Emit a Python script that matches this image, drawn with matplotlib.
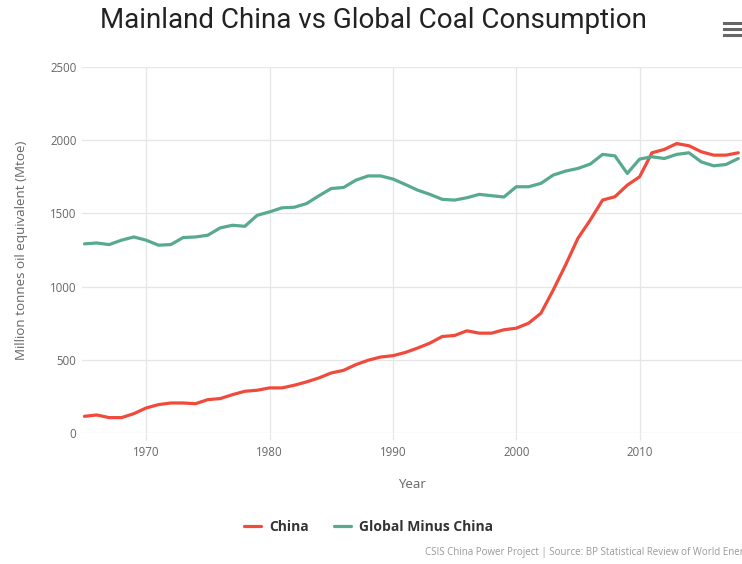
import numpy as np
import matplotlib
matplotlib.use("Agg")
import matplotlib.pyplot as plt
from matplotlib.lines import Line2D

# yearly coal consumption, Mtoe
years = np.arange(1965, 2019)
china = [114, 123, 105, 105, 132, 171, 194, 205, 205, 200,
         228, 235, 262, 285, 292, 308, 308, 326, 349, 376,
         410, 428, 467, 497, 519, 528, 550, 580, 614, 659,
         666, 698, 682, 682, 705, 716, 750, 818, 977, 1148,
         1330, 1455, 1591, 1614, 1693, 1750, 1914, 1937, 1977, 1962,
         1921, 1898, 1898, 1914]
global_minus_china = [1292, 1298, 1287, 1317, 1339, 1317, 1283, 1287, 1335, 1339,
                      1351, 1401, 1419, 1412, 1487, 1510, 1538, 1542, 1567, 1620,
                      1670, 1677, 1727, 1756, 1756, 1735, 1698, 1659, 1630, 1596,
                      1591, 1607, 1630, 1621, 1612, 1682, 1682, 1705, 1762, 1789,
                      1807, 1837, 1903, 1893, 1773, 1871, 1887, 1875, 1903, 1914,
                      1852, 1825, 1834, 1875]

xticks = [1970, 1980, 1990, 2000, 2010]
yticks = [0, 500, 1000, 1500, 2000, 2500]

red = "#f04a3c"
green = "#57a98f"
grid_col = "#e6e6e6"
tick_col = "#666666"

fig = plt.figure(figsize=(7.42, 5.64), dpi=100)
ax = fig.add_axes([82 / 742, 1 - 433 / 564, 1 - 82 / 742, (433 - 67) / 564])

ax.plot(years, china, color=red, lw=2.3, label="China", solid_capstyle="round")
ax.plot(years, global_minus_china, color=green, lw=2.3, label="Global Minus China",
        solid_capstyle="round")

ax.set_xlim(1964.8, 2018.3)
ax.set_ylim(0, 2500)
ax.set_xticks(xticks)
ax.set_yticks(yticks)
ax.grid(True, color=grid_col, lw=0.9)
ax.set_axisbelow(True)
for s in ax.spines.values():
    s.set_visible(False)
ax.tick_params(axis="y", length=0, labelsize=8.3, labelcolor=tick_col, pad=4)
ax.tick_params(axis="x", length=5, color=grid_col, width=0.9,
               labelsize=8.3, labelcolor=tick_col, pad=4)
for lab in ax.get_xticklabels() + ax.get_yticklabels():
    lab.set_family("Open Sans")

ax.set_xlabel("Year", fontsize=9.6, color=tick_col, family="Open Sans", labelpad=14)
ax.set_ylabel("Million tonnes oil equivalent (Mtoe)", fontsize=9.6, color=tick_col,
              family="Open Sans", labelpad=16)

fig.text(0.503, 1 - 21 / 564, "Mainland China vs Global Coal Consumption",
         ha="center", va="center", fontsize=20, family="Roboto", color="#222222")

leg = fig.legend(loc="center", bbox_to_anchor=(0.497, 1 - 527 / 564), ncol=2,
                 frameon=False, handlelength=1.2, handletextpad=0.6, columnspacing=1.8,
                 prop={"family": "Open Sans", "weight": "bold", "size": 10})
for t in leg.get_texts():
    t.set_color("#333333")

fig.text(425 / 742, 1 - 553 / 564,
         "CSIS China Power Project | Source: BP Statistical Review of World Energy",
         ha="left", va="center", fontsize=7, family="Open Sans", color="#999999")

# menu icon
for yy in [23, 29, 35]:
    fig.add_artist(Line2D([724 / 742, 741 / 742], [1 - yy / 564, 1 - yy / 564],
                          color="#666666", lw=2.2, transform=fig.transFigure))

fig.savefig("out.png", dpi=100)
